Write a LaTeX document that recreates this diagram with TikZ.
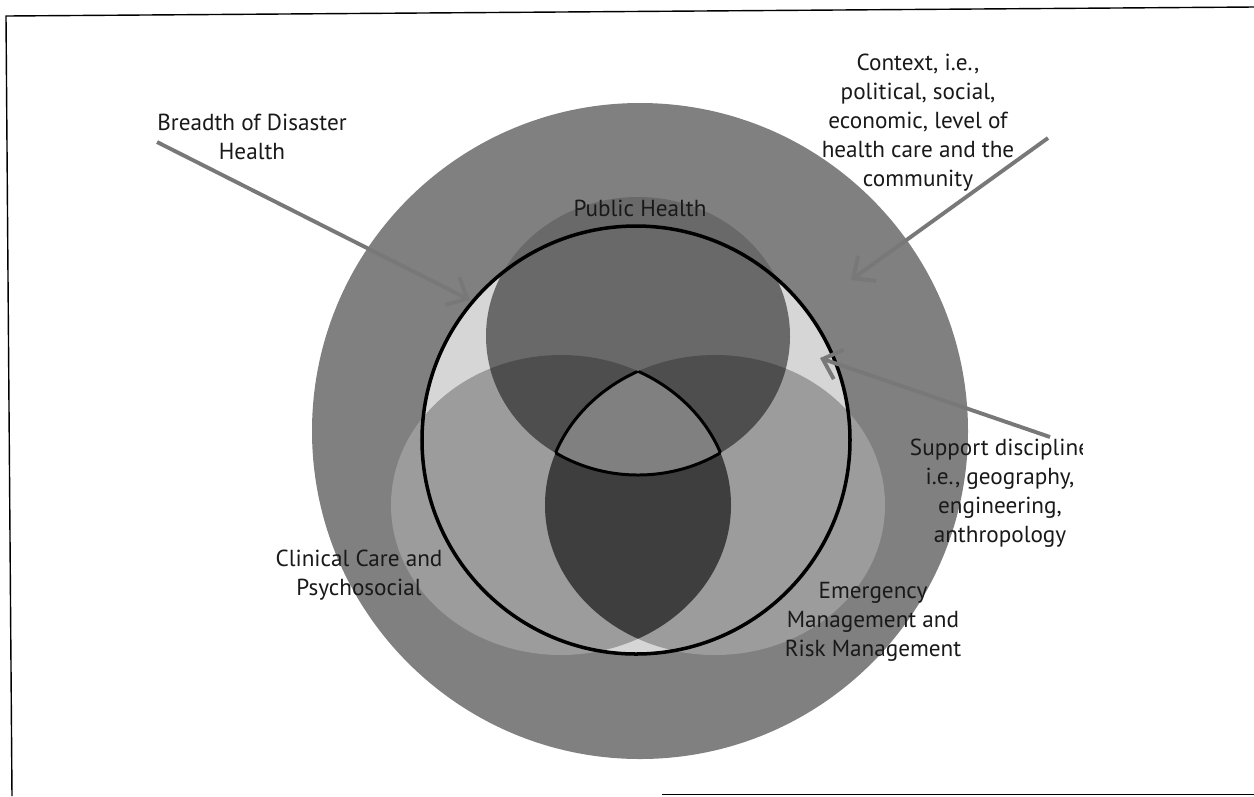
\documentclass[tikz,border=0pt]{standalone}
\usepackage{fontspec}
\setmainfont{PT Sans}
\usetikzlibrary{arrows.meta}
\definecolor{outergray}{HTML}{808080}
\definecolor{innerlight}{HTML}{D6D6D6}
\definecolor{sidegray}{HTML}{9C9C9C}
\definecolor{phgray}{HTML}{696969}
\definecolor{phside}{HTML}{4E4E4E}
\definecolor{lensgray}{HTML}{3E3E3E}
\definecolor{triplegray}{HTML}{808080}
\definecolor{arrowgray}{HTML}{787878}
\newcommand\pathOUT{(640,431) circle [radius=328]}
\newcommand\pathIN{(636,440) circle [radius=214]}
\newcommand\pathPH{(638,336) ellipse [x radius=152, y radius=139]}
\newcommand\pathCL{(561,505) ellipse [x radius=170, y radius=150]}
\newcommand\pathEM{(715,505) ellipse [x radius=170, y radius=150]}
\begin{document}
\begin{tikzpicture}[x=0.02cm,y=-0.02cm,
  lbl/.style={align=center, font=\fontsize{13.2}{16.5}\selectfont, text=black!90, inner sep=0pt},
  pointer/.style={draw=arrowgray, line width=2.2pt, -{Straight Barb[length=0.34cm,width=0.62cm]}},
  frameline/.style={draw=black, line width=0.8pt}]
\useasboundingbox (0,0) rectangle (1254,796);
\fill[white] (0,0) rectangle (1254,796);
\draw[frameline] (1254,7) -- (6,16) -- (12,796);
\draw[frameline] (662,794.5) -- (1254,794.5);
% layered regions
\fill[outergray] \pathOUT;
\fill[innerlight] \pathIN;
\fill[sidegray] \pathCL;
\fill[sidegray] \pathEM;
\fill[phgray] \pathPH;
\begin{scope}
  \clip \pathPH;
  \fill[phside] \pathCL;
  \fill[phside] \pathEM;
\end{scope}
\begin{scope}
  \clip \pathCL;
  \fill[lensgray] \pathEM;
\end{scope}
\begin{scope}
  \clip \pathPH;
  \clip \pathCL;
  \fill[triplegray] \pathEM;
\end{scope}
% outline of the triple overlap
\begin{scope}
  \clip \pathCL; \clip \pathEM;
  \draw[line width=1.7pt] \pathPH;
\end{scope}
\begin{scope}
  \clip \pathPH; \clip \pathEM;
  \draw[line width=1.7pt] \pathCL;
\end{scope}
\begin{scope}
  \clip \pathPH; \clip \pathCL;
  \draw[line width=1.7pt] \pathEM;
\end{scope}
\draw[line width=2pt] \pathIN;
% labels
\node[lbl] (breadth) at (252,137) {Breadth of Disaster\\Health};
\node[lbl] (context) at (918,123) {Context, i.e.,\\political, social,\\economic, level of\\health care and the\\community};
\node[lbl] (public) at (640,208) {Public Health};
\begin{scope}
  \clip (0,0) rectangle (1082,796);
  \node[lbl] (support) at (1000,493) {Support discipline\\i.e., geography,\\engineering,\\anthropology};
\end{scope}
\node[lbl] (clinical) at (359,575) {Clinical Care and\\Psychosocial};
\node[lbl] (emergency) at (873,622) {Emergency\\Management and\\Risk Management};
% pointers
\coordinate (breadthStart) at (157,142);
\coordinate (breadthTip) at (470,300);
\coordinate (contextStart) at (1048,138);
\coordinate (contextTip) at (851,280);
\coordinate (supportStart) at (1050,437);
\coordinate (supportTip) at (820,358);
\draw[pointer] (breadthStart) -- (breadthTip);
\draw[pointer] (contextStart) -- (contextTip);
\draw[pointer] (supportStart) -- (supportTip);
\end{tikzpicture}
\end{document}
